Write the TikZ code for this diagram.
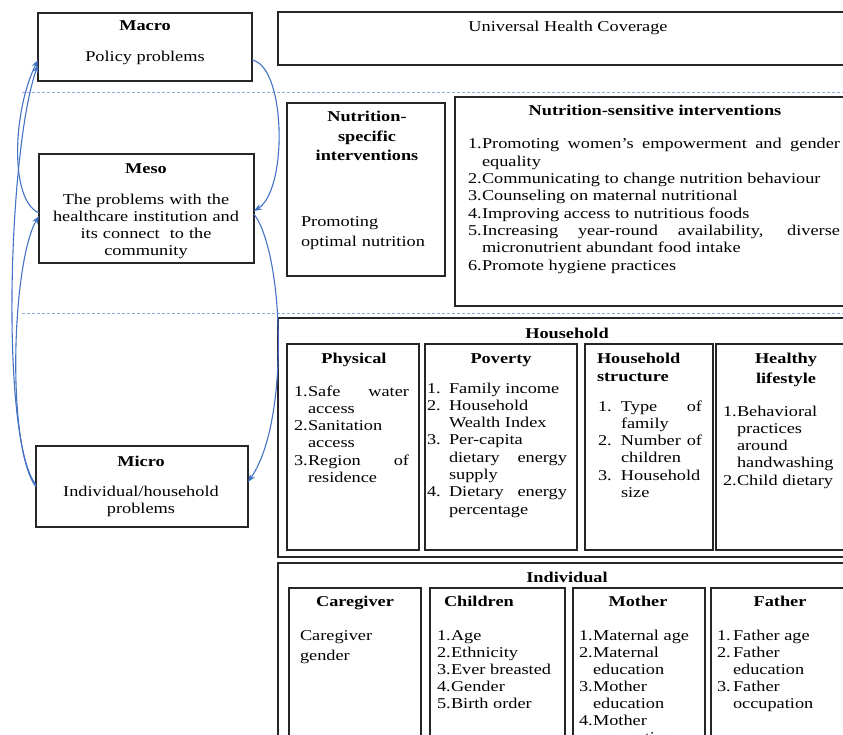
\documentclass[tikz,border=0pt]{standalone}
\usepackage{fontspec}
\setmainfont[FakeStretch=1.22]{Liberation Serif}
\usetikzlibrary{arrows.meta}
\definecolor{flowblue}{HTML}{4472C4}
\definecolor{dashblue}{HTML}{8FAADC}
\definecolor{frameline}{HTML}{262626}
\tolerance=10000 \hbadness=10000 \hyphenpenalty=10000 \exhyphenpenalty=10000
\newcommand\lfirst[2]{\hangindent=#1\hangafter=1\makebox[#1][l]{#2}\ignorespaces}
\newcommand\litem[2]{\par\noindent\lfirst{#1}{#2}}
\tikzset{
  panel/.style={draw=frameline, line width=1.1pt, inner sep=0pt, outer sep=0pt, anchor=north west},
  txt/.style={inner sep=0pt, outer sep=0pt, font=\fontsize{15}{17.3}\selectfont},
  ttl/.style={inner sep=0pt, outer sep=0pt, font=\fontsize{15}{19}\selectfont\bfseries, anchor=base},
  lst/.style={txt, anchor=base west, align=justify, text width=#1},
  ctr/.style={txt, anchor=base, align=center, text width=#1},
  flow/.style={draw=flowblue, line width=1.1pt, -{Stealth[length=8pt,width=6pt]}},
  dashline/.style={draw=dashblue, line width=0.9pt, dash pattern=on 3pt off 2pt},
}
\begin{document}
\begin{tikzpicture}[x=1pt,y=-1pt]
\useasboundingbox (0,0) rectangle (843,735);
\clip (0,0) rectangle (843,735);
\fill[white] (0,0) rectangle (843,735);

% dashed separators
\coordinate (d1a) at (22,92); \coordinate (d1b) at (843,92);
\coordinate (d2a) at (22,313); \coordinate (d2b) at (843,313);
\draw[dashline] (d1a) -- (d1b);
\draw[dashline] (d2a) -- (d2b);

% left level boxes
\node[panel, minimum width=214pt, minimum height=68pt] (macro) at (38,13) {};
\node[panel, minimum width=215pt, minimum height=109pt] (meso) at (39,154) {};
\node[panel, minimum width=212pt, minimum height=81pt] (micro) at (36,446) {};

% right boxes
\node[panel, minimum width=572pt, minimum height=53pt] (uhc) at (278,12) {};
\node[panel, minimum width=158pt, minimum height=173pt] (spec) at (287,103) {};
\node[panel, minimum width=395pt, minimum height=209pt] (sens) at (455,97) {};
\node[panel, minimum width=572pt, minimum height=239pt] (hh) at (278,318) {};
\node[panel, minimum width=132pt, minimum height=206pt] (phys) at (287,344) {};
\node[panel, minimum width=152pt, minimum height=206pt] (pov) at (425,344) {};
\node[panel, minimum width=128pt, minimum height=206pt] (hstr) at (585,344) {};
\node[panel, minimum width=134pt, minimum height=206pt] (hl) at (716,344) {};
\node[panel, minimum width=572pt, minimum height=190pt] (ind) at (278,563) {};
\node[panel, minimum width=132pt, minimum height=165pt] (care) at (289,588) {};
\node[panel, minimum width=135pt, minimum height=165pt] (chil) at (430,588) {};
\node[panel, minimum width=132pt, minimum height=165pt] (moth) at (573,588) {};
\node[panel, minimum width=139pt, minimum height=165pt] (fath) at (711,588) {};

% texts: levels
\node[ttl] (macroT) at (145,31) {Macro};
\node[txt, anchor=base] (macroB) at (145,62) {Policy problems};
\node[ttl] (mesoT) at (146,174) {Meso};
\node[ctr=210pt, font=\fontsize{15}{17}\selectfont] (mesoB) at (146,205) {The problems with the\\healthcare institution and\\its connect~ to the\\community};
\node[ttl] (microT) at (141,466) {Micro};
\node[ctr=200pt] (microB) at (141,496) {Individual/household\\problems};

% texts: UHC and interventions
\node[txt, anchor=base] (uhcT) at (568,32) {Universal Health Coverage};
\node[ctr=150pt, font=\fontsize{15}{19.5}\selectfont\bfseries] (specT) at (367,122) {Nutrition-\\specific\\interventions};
\node[txt, anchor=base west, align=left, text width=140pt, font=\fontsize{15}{20}\selectfont] (specB) at (301,227) {Promoting\\optimal nutrition};
\node[ttl] (sensT) at (655,116) {Nutrition-sensitive interventions};
\node[lst=372pt] (sensL) at (468,149) {%
\lfirst{14pt}{1.}Promoting women’s empowerment and gender\linebreak equality
\litem{14pt}{2.}Communicating to change nutrition behaviour
\litem{14pt}{3.}Counseling on maternal nutritional
\litem{14pt}{4.}Improving access to nutritious foods
\litem{14pt}{5.}Increasing year-round availability, diverse\linebreak micronutrient abundant food intake
\litem{14pt}{6.}Promote hygiene practices\par};

% texts: household
\node[ttl] (hhT) at (567,338) {Household};
\node[ttl] (physT) at (354,363) {Physical};
\node[lst=115pt] (physL) at (294,396) {%
\lfirst{14pt}{1.}Safe water\linebreak access
\litem{14pt}{2.}Sanitation\linebreak access
\litem{14pt}{3.}Region of\linebreak residence\par};
\node[ttl] (povT) at (501,363) {Poverty};
\node[lst=140pt] (povL) at (427,393) {%
\lfirst{22pt}{1.}Family income
\litem{22pt}{2.}Household\linebreak Wealth Index
\litem{22pt}{3.}Per-capita\linebreak dietary energy\linebreak supply
\litem{22pt}{4.}Dietary energy\linebreak percentage\par};
\node[txt, anchor=base west, align=left, text width=110pt, font=\fontsize{15}{18}\selectfont\bfseries] (hstrT) at (597,363) {Household\\structure};
\node[lst=104pt] (hstrL) at (598,411) {%
\lfirst{23pt}{1.}Type of\linebreak family
\litem{23pt}{2.}Number of\linebreak children
\litem{23pt}{3.}Household\linebreak size\par};
\node[ctr=120pt, font=\fontsize{15}{20}\selectfont\bfseries] (hlT) at (786,363) {Healthy\\lifestyle};
\node[lst=115pt] (hlL) at (723,416) {%
\lfirst{14pt}{1.}Behavioral\linebreak practices\linebreak around\linebreak handwashing
\litem{14pt}{2.}Child dietary\par};

% texts: individual
\node[ttl] (indT) at (567,582) {Individual};
\node[ttl] (careT) at (355,606) {Caregiver};
\node[txt, anchor=base west, align=left, text width=120pt, font=\fontsize{15}{20}\selectfont] (careB) at (300,640) {Caregiver\\gender};
\node[ttl, anchor=base west] (chilT) at (444,606) {Children};
\node[lst=125pt, font=\fontsize{15}{17}\selectfont] (chilL) at (437,640) {%
\lfirst{14pt}{1.}Age
\litem{14pt}{2.}Ethnicity
\litem{14pt}{3.}Ever breasted
\litem{14pt}{4.}Gender
\litem{14pt}{5.}Birth order\par};
\node[ttl] (mothT) at (638,606) {Mother};
\node[lst=122pt, font=\fontsize{15}{17}\selectfont] (mothL) at (579,640) {%
\lfirst{14pt}{1.}Maternal age
\litem{14pt}{2.}Maternal\linebreak education
\litem{14pt}{3.}Mother\linebreak education
\litem{14pt}{4.}Mother\linebreak occupation\par};
\node[ttl] (fathT) at (780,606) {Father};
\node[lst=122pt, font=\fontsize{15}{17}\selectfont] (fathL) at (717,640) {%
\lfirst{16pt}{1.}Father age
\litem{16pt}{2.}Father\linebreak education
\litem{16pt}{3.}Father\linebreak occupation\par};

% connectors
\draw[flow] ([yshift=-13pt]macro.east) .. controls +(34,6) and +(34,-21) .. ([yshift=-2.5pt]meso.east);
\draw[flow] ([yshift=-5.5pt]meso.east) .. controls +(30,40) and +(42,-60) .. ([yshift=4.5pt]micro.east);
\draw[flow] ([yshift=-4.5pt]meso.west) .. controls +(-30,-13) and +(-25,50) .. ([yshift=-13pt]macro.west);
\draw[flow] ([yshift=1.5pt]micro.west) .. controls +(-36,-45) and +(-30,84) .. ([yshift=-18pt]macro.west);
\draw[flow] ([yshift=-0.5pt]micro.west) .. controls +(-30,-40) and +(-27,45) .. ([yshift=-7.5pt]meso.west);
\end{tikzpicture}
\end{document}
